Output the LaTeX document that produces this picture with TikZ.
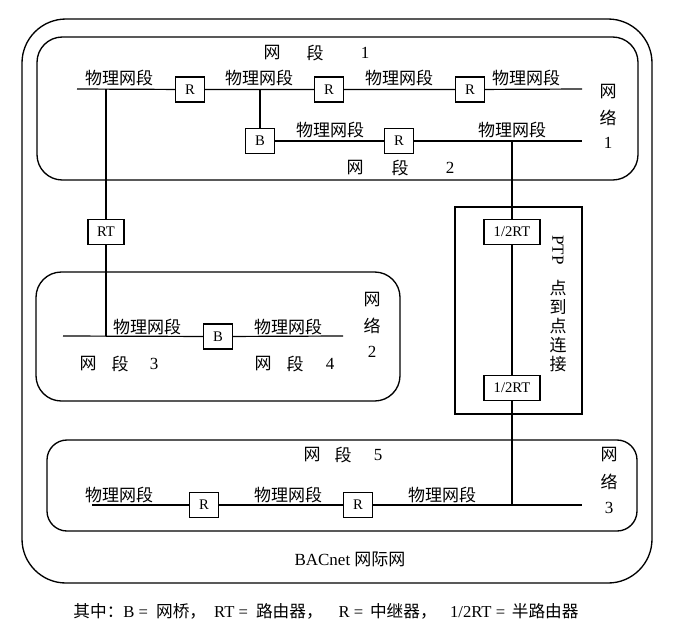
\documentclass[tikz,border=0pt]{standalone}
\usepackage{fontspec}
\setmainfont{Liberation Serif}
\newfontfamily\cjk{Noto Sans CJK SC}
\begin{document}
\begin{tikzpicture}[x=0.75pt,y=-0.75pt,
  every node/.style={inner sep=0pt, outer sep=0pt},
  dev/.style={draw, line width=1.1pt, fill=white, font=\fontsize{11}{12}\selectfont, minimum height=19pt, minimum width=21.75pt},
  wide/.style={minimum width=27pt},
  half/.style={minimum width=42pt},
  lbl/.style={font=\cjk\fontsize{12.75}{14}\selectfont},
  num/.style={font=\fontsize{12.75}{14}\selectfont},
  wire/.style={line width=0.9pt},
  frame/.style={line width=1pt}]
\useasboundingbox (0,0) rectangle (677,626);

% frames
\draw[frame, rounded corners=33pt] (22,19) rectangle (652,583);
\draw[frame, rounded corners=19pt] (37,37) rectangle (638,180);
\draw[frame, rounded corners=19pt] (36,272) rectangle (400,401);
\draw[frame, rounded corners=15pt] (47,440) rectangle (637,531);
\draw[frame] (455,207) rectangle (582,414);

% network 1, row 1
\coordinate (r1L) at (77,89);
\coordinate (r1R) at (582,89);
\coordinate (j1) at (106,89);
\coordinate (j2) at (260,89);
\node[dev] (R1) at (190,89.5) {R};
\node[dev] (R2) at (329,89.5) {R};
\node[dev] (R3) at (470,89.5) {R};
\draw[wire] (r1L) -- (R1) -- (R2) -- (R3) -- (r1R);

% network 1, row 2
\node[dev] (B1) at (260,141) {B};
\node[dev] (R4) at (399,141) {R};
\coordinate (r2R) at (582,141);
\coordinate (j3) at (512,141);
\draw[wire] (j2) -- (B1);
\draw[wire] (B1) -- (R4) -- (r2R);

% router RT
\node[dev, wide] (RT) at (106,232) {RT};
\coordinate (j4) at (106,336);
\draw[wire] (j1) -- (RT) -- (j4);

% network 2
\coordinate (n2L) at (63,336);
\coordinate (n2R) at (343,336);
\node[dev] (B2) at (218,336.5) {B};
\draw[wire] (n2L) -- (B2) -- (n2R);

% PTP
\node[dev, half] (H1) at (512,232) {1/2RT};
\node[dev, half] (H2) at (512,388) {1/2RT};
\coordinate (j5) at (512,505);
\draw[wire] (j3) -- (H1) -- (H2) -- (j5);

% network 3
\coordinate (n3L) at (92,505);
\coordinate (n3R) at (582,505);
\node[dev] (R5) at (204,505) {R};
\node[dev] (R6) at (358,505) {R};
\draw[wire] (n3L) -- (R5) -- (R6) -- (n3R);

% physical segment labels
\foreach \x/\y [count=\i] in {119/78,259/78,399/78,526/78,330/130,512/130,147/327,288/327,119/495,288/495,442/495}
  \node[lbl] (pl\i) at (\x,\y) {物理网段};

% segment labels
\node[lbl] (s1a) at (272,53) {网};
\node[lbl] (s1b) at (315,53) {段};
\node[num] (s1c) at (365,53) {1};
\node[lbl] (s2a) at (355,168) {网};
\node[lbl] (s2b) at (400,168) {段};
\node[num] (s2c) at (450,168) {2};
\node[lbl] (s3a) at (88,364) {网};
\node[lbl] (s3b) at (120,364) {段};
\node[num] (s3c) at (154,364) {3};
\node[lbl] (s4a) at (263,364) {网};
\node[lbl] (s4b) at (295,364) {段};
\node[num] (s4c) at (330,364) {4};
\node[lbl] (s5a) at (312,455) {网};
\node[lbl] (s5b) at (343,455) {段};
\node[num] (s5c) at (378,455) {5};

% network labels
\node[lbl] (w1a) at (608,92) {网};
\node[lbl] (w1b) at (608,118) {络};
\node[num] (w1c) at (608,143) {1};
\node[lbl] (w2a) at (372,300) {网};
\node[lbl] (w2b) at (372,326) {络};
\node[num] (w2c) at (372,352) {2};
\node[lbl] (w3a) at (609,455) {网};
\node[lbl] (w3b) at (609,482) {络};
\node[num] (w3c) at (609,508) {3};

% PTP label
\node[num, rotate=-90] (ptp) at (558,250) {PTP};
\node[lbl] (p1) at (558,288) {点};
\node[lbl] (p2) at (558,307) {到};
\node[lbl] (p3) at (558,326) {点};
\node[lbl] (p4) at (558,345) {连};
\node[lbl] (p5) at (558,364) {接};

% titles
\node[num] (bac) at (350,559) {BACnet {\cjk 网际网}};
\node[font=\fontsize{12.5}{14}\selectfont] (legend) at (326,611)
  {{\cjk 其中：}B =\hspace{6pt}{\cjk 网桥，}\hspace{6pt}RT =\hspace{6pt}{\cjk 路由器，}\hspace{12pt}R =\hspace{5pt}{\cjk 中继器，}\hspace{10pt}1/2RT =\hspace{5pt}{\cjk 半路由器}};
\end{tikzpicture}
\end{document}
